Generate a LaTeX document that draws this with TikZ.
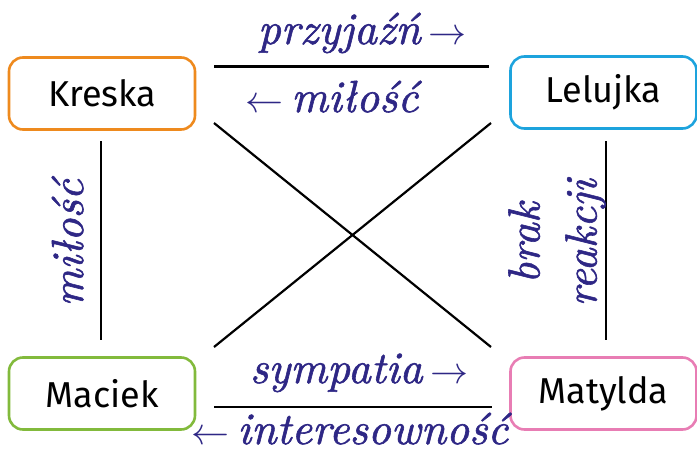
\RequirePackage{fix-cm}
\documentclass[tikz,border=0pt]{standalone}
\usepackage{fontspec}
\setsansfont{Fira Sans}
\newfontfamily\curs[FakeBold=1.3]{lmroman10-italic.otf}
\newcommand{\rarr}{{\fontsize{38}{38}\selectfont$\rightarrow$}}
\newcommand{\larr}{{\fontsize{38}{38}\selectfont$\leftarrow$}}
\definecolor{ink}{HTML}{2E2785}
\definecolor{cOrange}{HTML}{EE8A1E}
\definecolor{cBlue}{HTML}{1DA3DD}
\definecolor{cGreen}{HTML}{82BA3C}
\definecolor{cPink}{HTML}{E87DB4}
\begin{document}
\begin{tikzpicture}[x=1pt,y=-1pt,
  person/.style={draw,line width=2.6pt,rounded corners=14pt,minimum width=186pt,minimum height=72pt,
    font=\sffamily\fontsize{36}{40}\selectfont,text=black,inner sep=0pt},
  rel/.style={line width=2.2pt,black},
  lab/.style={text=ink,font=\curs\fontsize{45}{57}\selectfont,inner sep=0pt}]
\useasboundingbox (0,0) rectangle (697,453);
\node[person,draw=cOrange] (kreska) at (102,93.5) {Kreska};
\node[person,draw=cBlue] (lelujka) at (603.5,92.5) {Lelujka};
\node[person,draw=cGreen] (maciek) at (102,393.5) {Maciek};
\node[person,draw=cPink] (matylda) at (603.5,393.5) {Matylda};
\coordinate (t1) at (214,66.5); \coordinate (t2) at (489,66.5);
\coordinate (b1) at (214,407); \coordinate (b2) at (492,407);
\coordinate (l1) at (101,141); \coordinate (l2) at (101,340);
\coordinate (r1) at (606,141); \coordinate (r2) at (606,340);
\coordinate (d1) at (214,123); \coordinate (d2) at (491,347);
\coordinate (e1) at (214,347); \coordinate (e2) at (491,123);
\draw[rel] (t1) -- (t2);
\draw[rel] (b1) -- (b2);
\draw[rel] (l1) -- (l2);
\draw[rel] (r1) -- (r2);
\draw[rel] (d1) -- (d2);
\draw[rel] (e1) -- (e2);
\node[lab,anchor=base] (lp) at (362,44) {przyjaźń\,\rarr};
\node[lab,anchor=base] (lm) at (332,112) {\larr\,miłość};
\node[lab,anchor=base] (ls) at (359,383) {sympatia\,\rarr};
\node[lab,anchor=base] (li) at (350,444) {\larr\,interesowność};
\node[lab,rotate=90,anchor=base] (lv) at (83,243) {miłość};
\node[lab,rotate=90,align=center] (lb) at (557,243) {brak\\reakcji};
\end{tikzpicture}
\end{document}
